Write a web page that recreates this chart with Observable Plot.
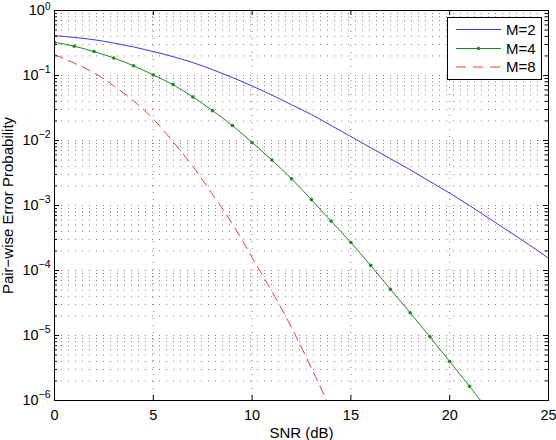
<!DOCTYPE html>
<html><head><meta charset="utf-8">
<script src="https://cdn.jsdelivr.net/npm/d3@7"></script>
<script src="https://cdn.jsdelivr.net/npm/@observablehq/plot@0.6"></script>
<style>
html,body{margin:0;padding:0;background:#fff;}
#wrap{position:relative;width:556px;height:440px;font-family:"Liberation Sans",Arial,Helvetica,sans-serif;}
#legend{position:absolute;left:447px;top:17px;}
</style></head><body><div id="wrap"></div>
<script>
// ---- data ----
const snr = [0,1,2,3,4,5,6,7,8,9,10,11,12,13,14,15,16,17,18,19,20,21,22,23,24,25];
const m2 = [0.412,0.385,0.355,0.316,0.275,0.234,0.195,0.158,0.123,0.0933,0.0692,0.0501,0.0355,0.0251,0.0170,0.0115,0.00776,0.00525,0.00355,0.00234,0.00155,0.00100,6.31e-4,3.98e-4,2.51e-4,1.55e-4];
const m4 = [0.324,0.282,0.234,0.186,0.141,0.102,0.0724,0.0468,0.0288,0.0170,0.00933,0.00501,0.00257,0.00123,5.75e-4,2.69e-4,1.20e-4,5.13e-5,2.24e-5,9.55e-6,3.98e-6,1.66e-6,6.76e-7];
const m8 = [0.209,0.155,0.110,0.0692,0.0407,0.0214,0.00955,0.00398,0.00148,5.25e-4,1.58e-4,4.79e-5,1.32e-5,3.16e-6,7.08e-7];
const seriesNames = ["M=2","M=4","M=8"];
const seriesColors = ["#3a3ae0","#1e8a1e","#ee3a3a"];
const xTicks = [0,5,10,15,20,25];
const yTicks = [1e-6,1e-5,1e-4,1e-3,1e-2,1e-1,1];
const yTickLabels = ["10^\u22126","10^\u22125","10^\u22124","10^\u22123","10^\u22122","10^\u22121","10^0"];
const xLabel = "SNR (dB)";
const yLabel = "Pair\u2212wise Error Probability";

// ---- layout ----
const W = 556, H = 440, mL = 54, mR = 8, mT = 10, mB = 40;
const pw = W - mL - mR, ph = H - mT - mB;

const rows = [];
[m2, m4, m8].forEach((arr, k) => arr.forEach((p, i) => rows.push({series: seriesNames[k], snr: snr[i], p})));
const bySeries = name => rows.filter(r => r.series === name);

// minor log grid positions
const yMinor = [];
for (let e = -6; e < 0; e++) for (let m = 2; m <= 9; m++) yMinor.push(m * Math.pow(10, e));
const yMajorInner = yTicks.slice(1, -1);
const xGrid = xTicks.slice(1, -1);

const grid = {stroke: "#000", strokeOpacity: 0.5, strokeDasharray: "1,6", strokeWidth: 1};

const chart = Plot.plot({
  width: W, height: H,
  marginLeft: mL, marginRight: mR, marginTop: mT, marginBottom: mB,
  style: {fontFamily: "'Liberation Sans', Arial, Helvetica, sans-serif", fontSize: "14px", color: "#000", background: "#fff"},
  x: {domain: [0, 25]},
  y: {type: "log", domain: [1e-6, 1]},
  marks: [
    Plot.ruleY(yMinor, {y: d => d, ...grid}),
    Plot.ruleY(yMajorInner, {y: d => d, ...grid}),
    Plot.ruleX(xGrid, {x: d => d, ...grid}),
    Plot.line(bySeries("M=2"), {x: "snr", y: "p", stroke: seriesColors[0], strokeWidth: 1, curve: "monotone-x", clip: "frame"}),
    Plot.line(bySeries("M=4"), {x: "snr", y: "p", stroke: seriesColors[1], strokeWidth: 1, curve: "monotone-x", clip: "frame"}),
    Plot.dot(bySeries("M=4"), {x: "snr", y: "p", r: 1.8, fill: seriesColors[1], stroke: "none", clip: "frame"}),
    Plot.line(bySeries("M=8"), {x: "snr", y: "p", stroke: seriesColors[2], strokeWidth: 1, strokeDasharray: "9,6", curve: "monotone-x", clip: "frame"}),
    Plot.frame({stroke: "#000", strokeWidth: 1}),
    // inward ticks (MATLAB style)
    Plot.tickY(yTicks, {y: d => d, stroke: "#000", insetRight: pw - 5}),
    Plot.tickY(yTicks, {y: d => d, stroke: "#000", insetLeft: pw - 5}),
    Plot.tickY(yMinor, {y: d => d, stroke: "#000", insetRight: pw - 3}),
    Plot.tickY(yMinor, {y: d => d, stroke: "#000", insetLeft: pw - 3}),
    Plot.tickX(xTicks, {x: d => d, stroke: "#000", insetBottom: ph - 5}),
    Plot.tickX(xTicks, {x: d => d, stroke: "#000", insetTop: ph - 5}),
    Plot.axisX({ticks: xTicks, tickSize: 0, tickPadding: 9, fontSize: 14.5, tickFormat: d => String(d),
      label: xLabel, labelAnchor: "center", labelArrow: "none", labelOffset: 37}),
    Plot.axisY({ticks: yTicks, tickSize: 0, tickPadding: 4, fontSize: 14.5,
      tickFormat: d => yTickLabels[yTicks.indexOf(d)] ?? "",
      label: yLabel, labelAnchor: "center", labelArrow: "none", labelOffset: 52})
  ]
});

// superscript exponents on the y tick labels
chart.querySelectorAll('g[aria-label="y-axis tick label"] text').forEach(t => {
  const s = t.textContent;
  if (!s.includes("^")) return;
  const [base, exp] = s.split("^");
  while (t.firstChild) t.removeChild(t.firstChild);
  const ns = "http://www.w3.org/2000/svg";
  const a = document.createElementNS(ns, "tspan"); a.textContent = base; t.appendChild(a);
  const b = document.createElementNS(ns, "tspan"); b.textContent = exp;
  const top = exp === "0"; // label at the very top edge: keep it inside the picture
  b.setAttribute("font-size", top ? "10" : "10.5"); b.setAttribute("dy", top ? "-5.5" : "-7.5"); t.appendChild(b);
});
// axis labels slightly larger, as in the reference
chart.querySelectorAll('g[aria-label="x-axis label"] text, g[aria-label="y-axis label"] text').forEach(t => t.setAttribute("font-size", "15"));

const wrap = document.getElementById("wrap");
wrap.appendChild(chart);

// legend box (MATLAB style, upper right)
const ns = "http://www.w3.org/2000/svg";
const lg = document.createElementNS(ns, "svg");
lg.setAttribute("id", "legend"); lg.setAttribute("width", 95); lg.setAttribute("height", 63);
lg.innerHTML = `<rect x="0.5" y="0.5" width="94" height="62" fill="#fff" stroke="#000" stroke-width="1"/>`;
const rowY = [12.5, 31.5, 50];
seriesNames.forEach((name, i) => {
  const g = document.createElementNS(ns, "g");
  const dash = i === 2 ? ' stroke-dasharray="10,7"' : '';
  g.innerHTML = `<line x1="9" x2="54" y1="${rowY[i]}" y2="${rowY[i]}" stroke="${seriesColors[i]}" stroke-width="1"${dash}/>` +
    (i === 1 ? `<circle cx="31.5" cy="${rowY[i]}" r="1.8" fill="${seriesColors[i]}"/>` : '') +
    `<text x="59" y="${rowY[i] + 5.4}" font-size="15" font-family="'Liberation Sans', Arial, sans-serif" fill="#000">${name}</text>`;
  lg.appendChild(g);
});
wrap.appendChild(lg);
</script>
</body></html>
